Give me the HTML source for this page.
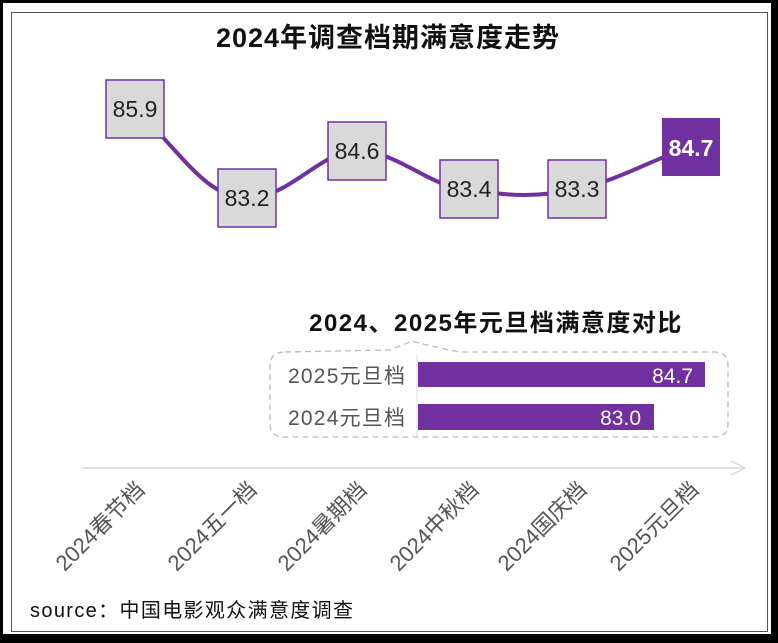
<!DOCTYPE html>
<html><head><meta charset="utf-8"><style>
body{margin:0;width:778px;height:643px;background:#000;overflow:hidden}
svg{display:block}
text{font-family:"Liberation Sans","Noto Sans CJK SC",sans-serif}
</style></head><body>
<svg width="778" height="643" viewBox="0 0 778 643">
<rect x="3" y="3" width="768" height="631" fill="#fff"/>
<rect x="11.5" y="12.5" width="756" height="619" fill="none" stroke="#555" stroke-width="1"/>
<text x="388" y="47" text-anchor="middle" font-size="27" font-weight="bold" fill="#111" letter-spacing="1">2024年调查档期满意度走势</text>
<path d="M135,109 C180,150 205,198 247,198 C290,198 320,151 357,151 C400,151 430,189 469,189 C510,197 540,197 577,189 C620,180 650,160 691,147" fill="none" stroke="#7030a0" stroke-width="4"/>
<g font-size="23" text-anchor="middle" fill="#222">
<rect x="106" y="80" width="58" height="58" fill="#d9d9d9" stroke="#7030a0" stroke-width="1.5"/><text x="135" y="117">85.9</text>
<rect x="218" y="169" width="58" height="58" fill="#d9d9d9" stroke="#7030a0" stroke-width="1.5"/><text x="247" y="206">83.2</text>
<rect x="328" y="122" width="58" height="58" fill="#d9d9d9" stroke="#7030a0" stroke-width="1.5"/><text x="357" y="159">84.6</text>
<rect x="440" y="160" width="58" height="58" fill="#d9d9d9" stroke="#7030a0" stroke-width="1.5"/><text x="469" y="197">83.4</text>
<rect x="548" y="160" width="58" height="58" fill="#d9d9d9" stroke="#7030a0" stroke-width="1.5"/><text x="577" y="197">83.3</text>
<rect x="662" y="118" width="58" height="58" fill="#7030a0"/><text x="691" y="156" fill="#fff" font-weight="bold">84.7</text>
</g>
<text x="496" y="331" text-anchor="middle" font-size="24" font-weight="bold" fill="#111" letter-spacing="1.5">2024、2025年元旦档满意度对比</text>
<path d="M285,352 L390,350 Q405,344 412,341 Q420,344 460,352 L714,352 Q728,352 728,366 L728,424 Q728,437 714,437 L284,437 Q270,437 270,424 L270,366 Q270,352 285,352 Z" fill="none" stroke="#bbb" stroke-width="1.3" stroke-dasharray="6,4"/>
<line x1="417" y1="355" x2="417" y2="437" stroke="#ddd"/>
<rect x="418" y="362" width="287" height="25" fill="#7030a0"/>
<rect x="418" y="404" width="236" height="26" fill="#7030a0"/>
<g font-size="21" fill="#555"><text x="288" y="383" textLength="117">2025元旦档</text><text x="288" y="425" textLength="117">2024元旦档</text></g>
<g font-size="21" fill="#fff" text-anchor="end"><text x="693" y="383">84.7</text><text x="641" y="425">83.0</text></g>
<line x1="82" y1="468" x2="745" y2="468" stroke="#d9d9d9" stroke-width="1.5"/>
<path d="M731,461 L745,468 L731,475" fill="none" stroke="#d9d9d9" stroke-width="1.5"/>
<g font-size="22" fill="#555" text-anchor="end">
<text transform="translate(146,491) rotate(-45)">2024春节档</text>
<text transform="translate(258,491) rotate(-45)">2024五一档</text>
<text transform="translate(368,491) rotate(-45)">2024暑期档</text>
<text transform="translate(480,491) rotate(-45)">2024中秋档</text>
<text transform="translate(588,491) rotate(-45)">2024国庆档</text>
<text transform="translate(700,491) rotate(-45)">2025元旦档</text>
</g>
<text x="30" y="617" font-size="20" fill="#111" textLength="323">source：中国电影观众满意度调查</text>
</svg>
</body></html>
